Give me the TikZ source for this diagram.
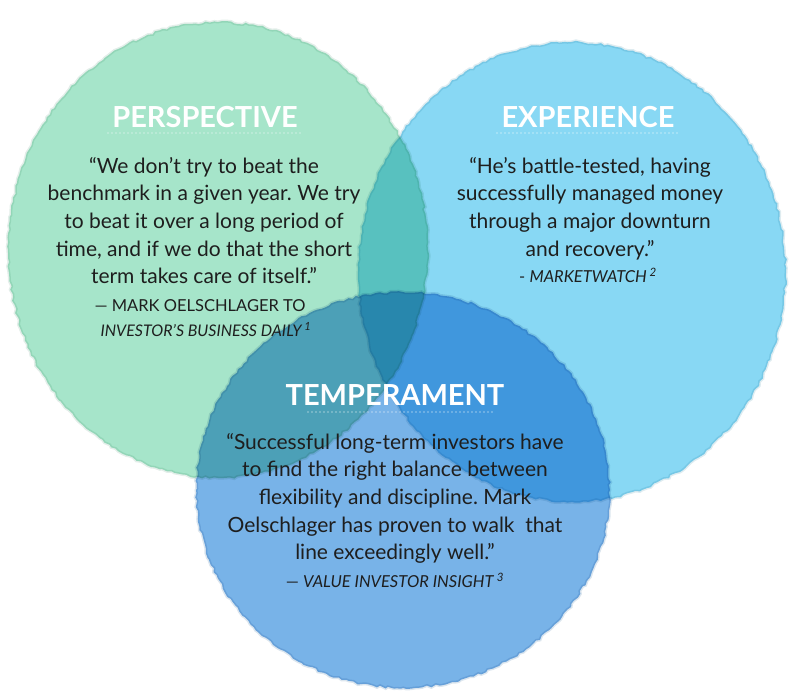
\documentclass[tikz,border=0pt]{standalone}
\usepackage{fontspec}
\setmainfont{Lato}
\frenchspacing
\usetikzlibrary{decorations.pathmorphing}
\definecolor{mint}{RGB}{158,227,197}
\definecolor{sky}{RGB}{126,213,243}
\definecolor{ocean}{RGB}{108,172,230}
\definecolor{ink}{RGB}{30,30,30}
\tikzset{
	blob/.style={fill=#1, fill opacity=0.92, draw=#1!75!black, draw opacity=0.2, line width=3pt,
		decorate, decoration={random steps, segment length=4pt, amplitude=1.2pt}},
	head/.style={text=white, font=\fontsize{29}{30}\selectfont\bfseries, inner sep=0pt},
	quote/.style={text=ink, align=center, inner sep=0pt, font=\fontsize{21}{27.6}\selectfont},
	credit/.style={text=ink, align=center, inner sep=0pt, font=\fontsize{16.5}{24}\selectfont},
	dots/.style={white, line width=1.3pt, dash pattern=on 0pt off 4pt, line cap=round}
}
\begin{document}
\begin{tikzpicture}[x=1pt, y=-1pt]
		%%%%% START %%%%%
		\useasboundingbox (0, 0) rectangle (789, 692);
		
		\begin{scope}[blend mode=multiply]
			\draw[blob=mint] (218, 250) ellipse [x radius=210pt, y radius=228pt];
			\draw[blob=sky] (572, 272) ellipse [x radius=214pt, y radius=230pt];
			\draw[blob=ocean] (403, 490) ellipse [x radius=207pt, y radius=198pt];
		\end{scope}
		
		% headings
		\node[head] (pershead) at (205, 117) {PERSPECTIVE};
		\node[head] (exphead) at (588, 117) {EXPERIENCE};
		\node[head] (temphead) at (395, 395) {TEMPERAMENT};
		
		\coordinate (pers1) at (108, 133);
		\coordinate (pers2) at (300, 133);
		\coordinate (exp1) at (497, 133);
		\coordinate (exp2) at (680, 133);
		\coordinate (temp1) at (308, 412);
		\coordinate (temp2) at (492, 412);
		\draw[dots] (pers1) -- (pers2);
		\draw[dots] (exp1) -- (exp2);
		\draw[dots] (temp1) -- (temp2);
		
		% quotes
		\node[quote, anchor=north] (persquote) at (204, 157)
			{\textquotedblleft We don\textquoteright t try to beat the\\
			benchmark in a given year. We try\\
			to beat it over a long period of\\
			time, and if we do that the short\\
			term takes care of itself.\textquotedblright};
		\node[credit, anchor=north] (perscredit) at (200, 299)
			{\textemdash\ MARK OELSCHLAGER TO};
		\node[credit, font=\fontsize{16}{24}\selectfont\itshape, anchor=north] (perssource) at (206, 322)
			{INVESTOR\textquoteright S BUSINESS DAILY\,\textsuperscript{1}};
		
		\node[quote, anchor=north] (expquote) at (590, 157)
			{\textquotedblleft He\textquoteright s battle-tested, having\\
			successfully managed money\\
			through a major downturn\\
			and recovery.\textquotedblright};
		\node[credit, anchor=north] (expcredit) at (588, 268)
			{- \textit{MARKETWATCH}\,\textsuperscript{\textit{2}}};
		
		\node[quote, anchor=north] (tempquote) at (395, 433)
			{\textquotedblleft Successful long-term investors have\\
			to find the right balance between\\
			flexibility and discipline. Mark\\
			Oelschlager has proven to walk\ \ that\\
			line exceedingly well.\textquotedblright};
		\node[credit, anchor=north] (tempcredit) at (395, 573)
			{\textemdash\ \textit{VALUE INVESTOR INSIGHT}\,\textsuperscript{\textit{3}}};
		%%%%% END %%%%%
\end{tikzpicture}
\end{document}
